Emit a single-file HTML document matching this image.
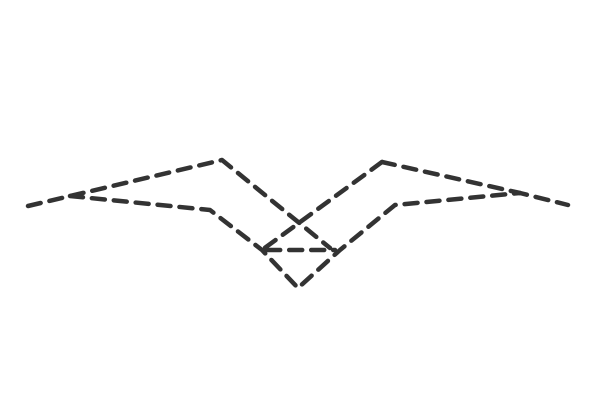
<!DOCTYPE html>
<html><head><style>html,body{margin:0;background:#fff}</style></head><body>
<svg width="600" height="400" xmlns="http://www.w3.org/2000/svg">
<g fill="none" stroke="#333" stroke-width="4.5" stroke-dasharray="13,9" stroke-linecap="round" stroke-linejoin="round">
<polyline points="28,206 222,160 330,248"/>
<polyline points="70,196 210,210 262,250 298,288 340,250 395,205 520,193 568,205"/>
<polyline points="382,162 520,193"/>
<polyline points="382,162 262,250 335,250"/>
</g>
</svg>
</body></html>
